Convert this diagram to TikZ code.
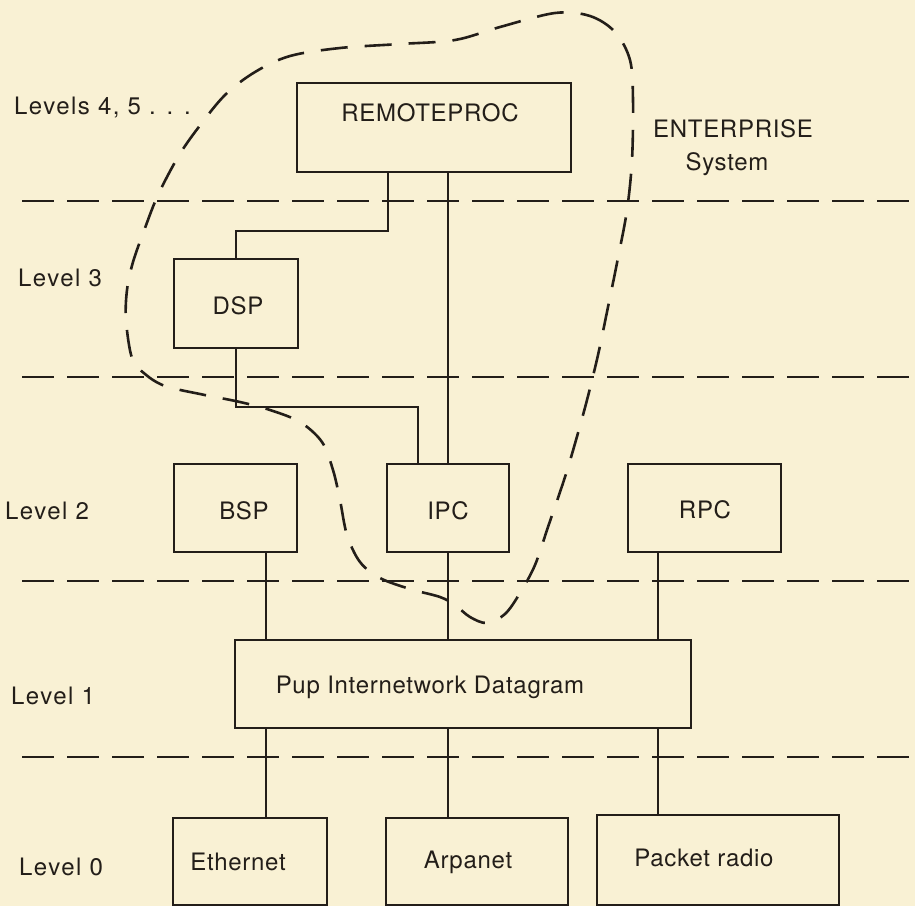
\documentclass[tikz,border=0pt]{standalone}
\usepackage{fontspec}
\setmainfont{TeX Gyre Heros}
\newfontfamily\levelfont[LetterSpace=6]{TeX Gyre Heros}
\newfontfamily\boxfont[LetterSpace=3]{TeX Gyre Heros}
\definecolor{paper}{RGB}{249,241,212}
\definecolor{ink}{RGB}{35,30,25}

\begin{document}
\begin{tikzpicture}[x=1pt, y=-1pt,
        layerbox/.style={draw=ink, line width=2.2pt, inner sep=0pt},
        boxtext/.style={inner sep=0pt, text=ink, font=\fontsize{24}{28}\boxfont},
        levellabel/.style={anchor=west, inner sep=0pt, text=ink, font=\fontsize{24}{28}\levelfont},
        link/.style={draw=ink, line width=1.3pt},
        levelline/.style={draw=ink, line width=2.4pt, dash pattern=on 32pt off 13pt},
        boundary/.style={draw=ink, line width=2.6pt, dash pattern=on 27pt off 17pt}]

        \useasboundingbox (0,0) rectangle (915,906);
        \fill[paper] (0,0) rectangle (915,906);

        % level separators
        \foreach \y in {201,377,581,757}
            \draw[levelline] (22,\y) -- (915,\y);

        % level labels
        \node[levellabel] (lvlfour) at (14,108) {Levels 4, 5 . . .};
        \node[levellabel] (lvlthree) at (18,278) {Level 3};
        \node[levellabel] (lvltwo) at (5,511) {Level 2};
        \node[levellabel] (lvlone) at (11,696) {Level 1};
        \node[levellabel] (lvlzero) at (19,867) {Level 0};

        % boxes
        \node[layerbox, minimum width=274pt, minimum height=89pt] (remoteproc) at (434,127.5) {};
        \node[layerbox, minimum width=124pt, minimum height=89pt] (dsp) at (236,303.5) {};
        \node[layerbox, minimum width=123pt, minimum height=88pt] (bsp) at (235.5,508) {};
        \node[layerbox, minimum width=122pt, minimum height=88pt] (ipc) at (448,508) {};
        \node[layerbox, minimum width=153pt, minimum height=88pt] (rpc) at (704.5,508) {};
        \node[layerbox, minimum width=456pt, minimum height=88pt] (pup) at (463,684) {};
        \node[layerbox, minimum width=154pt, minimum height=87pt] (ethernet) at (250,861.5) {};
        \node[layerbox, minimum width=182pt, minimum height=87pt] (arpanet) at (477,861.5) {};
        \node[layerbox, minimum width=242pt, minimum height=90pt] (packetradio) at (718,860) {};

        \node[boxtext] (remoteproctext) at (430,113) {REMOTEPROC};
        \node[boxtext] (dsptext) at (238,306) {DSP};
        \node[boxtext] (bsptext) at (244,511) {BSP};
        \node[boxtext] (ipctext) at (448,511) {IPC};
        \node[boxtext] (rpctext) at (705,510) {RPC};
        \node[boxtext] (puptext) at (430,687) {Pup Internetwork Datagram};
        \node[boxtext] (ethernettext) at (238,862) {Ethernet};
        \node[boxtext] (arpanettext) at (468,862) {Arpanet};
        \node[boxtext] (packettext) at (704,858) {Packet radio};

        % connectors
        \coordinate (colA) at (266,0);
        \coordinate (colB) at (448,0);
        \coordinate (colC) at (658,0);
        \draw[link] ([xshift=-46pt]remoteproc.south) -- ++(0,58) -| (dsp.north);
        \draw[link] (remoteproc.south -| colB) -- (ipc.north -| colB);
        \draw[link] (dsp.south) -- ++(0,58) -| ([xshift=-30pt]ipc.north);
        \foreach \upper/\col in {bsp/colA, ipc/colB, rpc/colC}
            \draw[link] (\upper.south -| \col) -- (pup.north -| \col);
        \foreach \lower/\col in {ethernet/colA, arpanet/colB, packetradio/colC}
            \draw[link] (pup.south -| \col) -- (\lower.north -| \col);

        % ENTERPRISE boundary
        \draw[boundary] plot[smooth cycle, tension=0.55] coordinates {
            (555,13) (590,16) (615,32) (630,60) (633,100) (632,160) (627,210)
            (618,258) (608,307) (598,355) (587,400) (576,440) (565,477) (548,527)
            (535,565) (520,593) (505,614) (487,623) (470,617) (455,605) (440,597)
            (410,589) (380,578) (360,562) (347,535) (340,500) (333,470) (322,442)
            (300,422) (270,410) (240,402) (200,394) (165,386) (145,374) (132,358)
            (126,320) (127,290) (133,262) (145,228) (158,195) (178,157) (198,128)
            (225,95) (255,72) (290,56) (340,48) (400,44) (455,40) (500,27)};
        \node[boxtext] (enterprise) at (733,129) {ENTERPRISE};
        \node[boxtext] (system) at (727,164) {System};

    \end{tikzpicture}
\end{document}
